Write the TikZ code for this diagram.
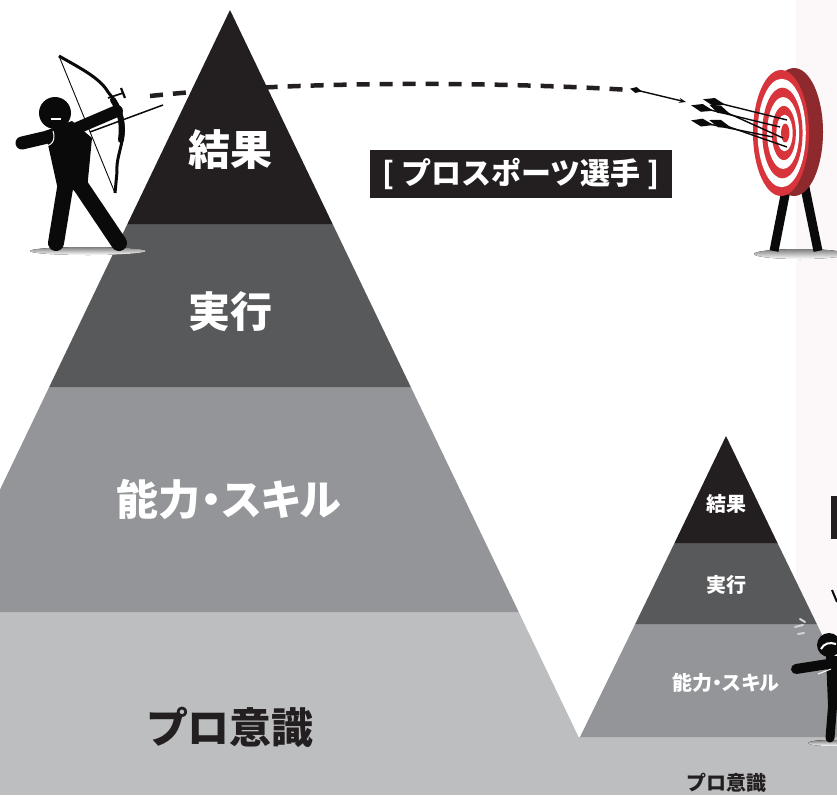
\documentclass[tikz,border=0pt]{standalone}
\usepackage{fontspec}
\newfontfamily\jp{Noto Sans CJK JP}
\newfontfamily\jpp{Noto Sans CJK JP}[RawFeature=+palt]
\usetikzlibrary{calc,arrows.meta}
\definecolor{bandA}{HTML}{231F20}
\definecolor{bandB}{HTML}{58595B}
\definecolor{bandC}{HTML}{939598}
\definecolor{bandD}{HTML}{BCBEC0}
\definecolor{ink}{HTML}{0A0A0A}
\definecolor{shade}{HTML}{A7A9AC}
\definecolor{tred}{HTML}{D7343C}
\definecolor{trim}{HTML}{8E2A2E}
\definecolor{panel}{HTML}{FCF7F8}
\definecolor{sweat}{HTML}{D1D3D4}
\tikzset{
  biglbl/.style={text=white, inner sep=0, font=\jpp\bfseries\fontsize{42}{48}\selectfont},
  bigbase/.style={text=bandA, inner sep=0, font=\jpp\bfseries\fontsize{42}{48}\selectfont},
  smalllbl/.style={text=white, inner sep=0, font=\jpp\bfseries\fontsize{20}{24}\selectfont},
  smallbase/.style={text=bandA, inner sep=0, font=\jpp\bfseries\fontsize{20}{24}\selectfont},
  tagbox/.style={fill=bandA, text=white, minimum width=302pt, minimum height=48pt,
    inner sep=0, font=\jp\bfseries\fontsize{30}{34}\selectfont},
  limb/.style={draw=ink, line cap=round},
  flight/.style={draw=bandA, line width=4.5pt, dash pattern=on 13pt off 10pt},
  shaft/.style={draw=ink, line width=1.4pt},
}
\begin{document}
\begin{tikzpicture}[x=1pt,y=-1pt]
\useasboundingbox (0,0) rectangle (837,795);
\clip (0,0) rectangle (837,795);

% faint side panel
\fill[panel] (796,0) rectangle (837,737);

% flight path of the arrow (passes behind the big pyramid)
\coordinate (shot) at (150,96);
\coordinate (flightend) at (630,90);
\draw[flight] (shot) .. controls (300,80) and (500,82) .. (flightend);

% ---------- big pyramid ----------
\fill[bandD] (-58.7,612) -- (518.7,612) -- (580,740) -- (-120,740) -- cycle;
\fill[bandD] (0,737) rectangle (837,795);
\fill[bandC] (49.2,387) -- (410.8,387) -- (518.7,612) -- (-58.7,612) -- cycle;
\fill[bandB] (127.4,224) -- (332.6,224) -- (410.8,387) -- (49.2,387) -- cycle;
\fill[bandA] (230,10) -- (332.6,224) -- (127.4,224) -- cycle;

\node[biglbl]  (res)   at (230,150) {結果};
\node[biglbl]  (exe)   at (230,312) {実行};
\node[biglbl]  (skill) at (229,500) {能力・スキル};
\node[bigbase] (pro)   at (231,727) {プロ意識};

% ---------- small pyramid ----------
\fill[bandD] (580,737) -- (872,737) -- (872,795) -- (580,795) -- cycle;
\fill[bandC] (635.2,624) -- (816.8,624) -- (872,737) -- (580,737) -- cycle;
\fill[bandB] (674.5,543) -- (777.5,543) -- (816.8,624) -- (635.2,624) -- cycle;
\fill[bandA] (726,436) -- (777.5,543) -- (674.5,543) -- cycle;

\node[smalllbl]  (sres)   at (726,504) {結果};
\node[smalllbl]  (sexe)   at (726,585) {実行};
\node[smalllbl]  (sskill) at (726,683) {能力・スキル};
\node[smallbase] (spro)   at (727,783) {プロ意識};

% partly visible label box on the right edge
\fill[bandA] (831,496) rectangle (845,539);

% ---------- label ----------
\node[tagbox] (tag) at (521,174) {[ プロスポーツ選手 ]};

% ---------- archer ----------
\fill[shade] (88,251) ellipse [x radius=58, y radius=4];
% bow and string
\draw[ink, line width=0.9pt] (59,56) -- (115,193);
\draw[ink, line width=3pt]
  (59,56) .. controls (80,68) and (100,78) .. (108,92)
          .. controls (118,104) and (125,118) .. (123,135)
          .. controls (121,150) and (116,160) .. (117,172)
          -- (115,193);
\draw[ink, line width=6pt, line cap=round] (113,100) .. controls (121,112) and (123,125) .. (121,140);
% sight
\draw[ink, line width=1.6pt] (108,98) -- (123,93);
\draw[ink, line width=2.2pt] (121,88) -- (125,98);
% legs
\draw[limb, line width=16pt] (66,182) -- (56,243);
\draw[limb, line width=16pt] (78,182) -- (119,243);
% torso
\fill[ink] (45,131) -- (72,121) -- (92,138) -- (87,190) -- (58,190) -- cycle;
% arms
\draw[limb, line width=13pt] (22,143) -- (52,136);
\draw[limb, line width=12pt] (68,132) -- (117,111);
\draw[white, line width=1pt] (42,146) .. controls (52,147) and (56,140) .. (53,131);
% arrow on the bow
\draw[ink, line width=1.5pt] (90,132) -- (163,105);
% head
\fill[ink] (55,113) circle [radius=16];
\draw[white, line width=2.4pt] (51,119) -- (61,119);

% ---------- flying arrow ----------
\coordinate (fly) at (686,102);
\draw[ink, line width=1.4pt, -{Stealth[length=7pt,width=5pt]}] (flightend) ++(6,0) coordinate (flytail) -- (fly);
\fill[ink] ($(flytail)!-6pt!(fly)$) -- ($(flytail)!3pt!90:(fly)$) -- ($(flytail)!6pt!(fly)$) -- ($(flytail)!-3pt!90:(fly)$) -- cycle;

% ---------- target ----------
\fill[shade] (800,254) ellipse [x radius=46, y radius=5];
\draw[ink, line width=9pt] (786,190) -- (774,251);
\draw[ink, line width=9pt] (803,178) -- (818,251);
\fill[trim] (794,132) ellipse [x radius=29, y radius=64];
\foreach \f/\c in {1/tred,0.86/white,0.72/tred,0.57/white,0.43/tred,0.29/white,0.15/tred}{
  \fill[\c] ({781+(1-\f)*5},133) ellipse [x radius={28*\f}, y radius={63*\f}];
}
% arrows stuck in the target
\foreach \tx/\ty/\px/\py in {706/100/787/120, 694/106/780/127, 712/106/783/138, 694/121/773/137, 712/121/787/147}{
  \coordinate (T) at (\tx,\ty);
  \coordinate (P) at (\px,\py);
  \draw[shaft] (T) -- (P);
  \coordinate (M) at ($(T)!8pt!(P)$);
  \fill[ink] ($(T)!-3pt!(P)$) -- ($(M)!4pt!90:(P)$) -- ($(T)!20pt!(P)$) -- ($(M)!-4pt!90:(P)$) -- cycle;
}

% ---------- second figure (right edge) ----------
\fill[shade] (830,743) ellipse [x radius=22, y radius=3];
\draw[ink, line width=2pt] (832,590) -- (837,602);
\draw[limb, line width=11pt] (834,665) -- (840,700);
\draw[limb, line width=9pt] (833,700) -- (830,738);
\fill[ink] (826,656) -- (845,656) -- (845,705) -- (828,705) -- cycle;
\draw[limb, line width=10pt] (796,669) -- (828,664);
\draw[white, line width=1pt] (818,674) -- (831,669);
\fill[ink] (829,645) circle [radius=12];
\draw[white, line width=2pt] (821,649) .. controls (824,643) and (830,642) .. (836,644);
\draw[sweat, line width=2pt, line cap=round] (800,619) -- (805,622);
\draw[sweat, line width=2pt, line cap=round] (795,627) -- (803,625);
\draw[sweat, line width=2pt, line cap=round] (798,634) -- (804,633);
\end{tikzpicture}
\end{document}
